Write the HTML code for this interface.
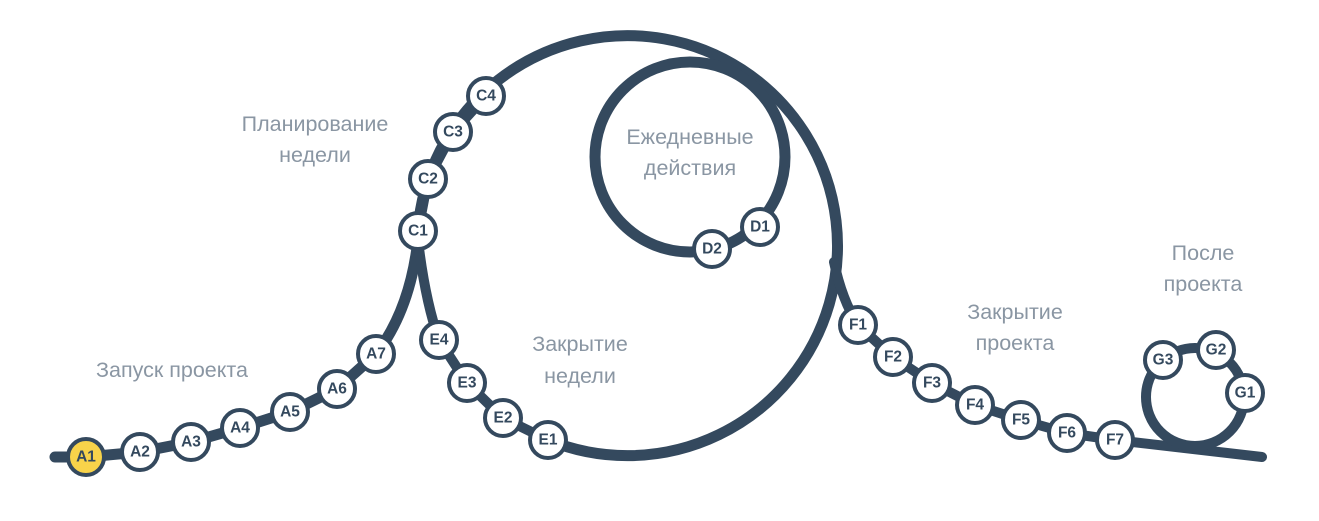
<!DOCTYPE html>
<html><head><meta charset="utf-8"><style>
body{margin:0;background:#fff;}
svg{display:block}
.l{fill:none;stroke:#34495e;stroke-linecap:round;stroke-linejoin:round}
.t{font-family:"Liberation Sans","Noto Sans CJK SC",sans-serif;font-size:21.5px;fill:#8a96a3;text-anchor:middle}
.n circle{fill:#fff;stroke:#34495e;stroke-width:4}
.n text{font-family:"Liberation Sans",sans-serif;font-weight:bold;font-size:15.5px;fill:#34495e;text-anchor:middle;dominant-baseline:central}
</style></head><body>
<svg width="1319" height="521" viewBox="0 0 1319 521">
<path class="l" stroke-width="11" d="M55,457 L86,457 L140,452 L191,442 L240,428 L290,412 L337,389 L376,354 Q410,310 418,240"/>
<path class="l" stroke-width="10" d="M418,240 Q425,300 439,340 L467,383 L503,418 L548,440"/>
<path class="l" stroke-width="11" d="M418,231 A210,210 0 1 1 548,440"/>
<path class="l" stroke-width="10" d="M418,231 L428,179 L453,132 L486,96"/>
<circle class="l" stroke-width="11" cx="690" cy="157" r="95"/>
<path class="l" stroke-width="10" d="M834,262 Q842,300 858,325 L893,357 L932,383 L975,405 L1021,420 L1067,433 L1115,440 L1262,457"/>
<circle class="l" stroke-width="10" cx="1195" cy="397" r="49"/>
<text class="t" x="315" y="131">Планирование</text>
<text class="t" x="315" y="162">недели</text>
<text class="t" x="690" y="144">Ежедневные</text>
<text class="t" x="690" y="175">действия</text>
<text class="t" x="172" y="377">Запуск проекта</text>
<text class="t" x="580" y="351">Закрытие</text>
<text class="t" x="580" y="383">недели</text>
<text class="t" x="1015" y="319">Закрытие</text>
<text class="t" x="1015" y="350">проекта</text>
<text class="t" x="1203" y="260">После</text>
<text class="t" x="1203" y="291">проекта</text>
<g class="n">
<circle cx="86" cy="457" r="18" style="fill:#f8d34a"/><text x="86" y="457">A1</text>
<circle cx="140" cy="452" r="18"/><text x="140" y="452">A2</text>
<circle cx="191" cy="442" r="18"/><text x="191" y="442">A3</text>
<circle cx="240" cy="428" r="18"/><text x="240" y="428">A4</text>
<circle cx="290" cy="412" r="18"/><text x="290" y="412">A5</text>
<circle cx="337" cy="389" r="18"/><text x="337" y="389">A6</text>
<circle cx="376" cy="354" r="18"/><text x="376" y="354">A7</text>
<circle cx="418" cy="231" r="18"/><text x="418" y="231">C1</text>
<circle cx="428" cy="179" r="18"/><text x="428" y="179">C2</text>
<circle cx="453" cy="132" r="18"/><text x="453" y="132">C3</text>
<circle cx="486" cy="96" r="18"/><text x="486" y="96">C4</text>
<circle cx="760" cy="227" r="18"/><text x="760" y="227">D1</text>
<circle cx="712" cy="249" r="18"/><text x="712" y="249">D2</text>
<circle cx="439" cy="340" r="18"/><text x="439" y="340">E4</text>
<circle cx="467" cy="383" r="18"/><text x="467" y="383">E3</text>
<circle cx="503" cy="418" r="18"/><text x="503" y="418">E2</text>
<circle cx="548" cy="440" r="18"/><text x="548" y="440">E1</text>
<circle cx="858" cy="325" r="18"/><text x="858" y="325">F1</text>
<circle cx="893" cy="357" r="18"/><text x="893" y="357">F2</text>
<circle cx="932" cy="383" r="18"/><text x="932" y="383">F3</text>
<circle cx="975" cy="405" r="18"/><text x="975" y="405">F4</text>
<circle cx="1021" cy="420" r="18"/><text x="1021" y="420">F5</text>
<circle cx="1067" cy="433" r="18"/><text x="1067" y="433">F6</text>
<circle cx="1115" cy="440" r="18"/><text x="1115" y="440">F7</text>
<circle cx="1245" cy="393" r="18"/><text x="1245" y="393">G1</text>
<circle cx="1216" cy="350" r="18"/><text x="1216" y="350">G2</text>
<circle cx="1163" cy="360" r="18"/><text x="1163" y="360">G3</text>
</g>
</svg>
</body></html>
